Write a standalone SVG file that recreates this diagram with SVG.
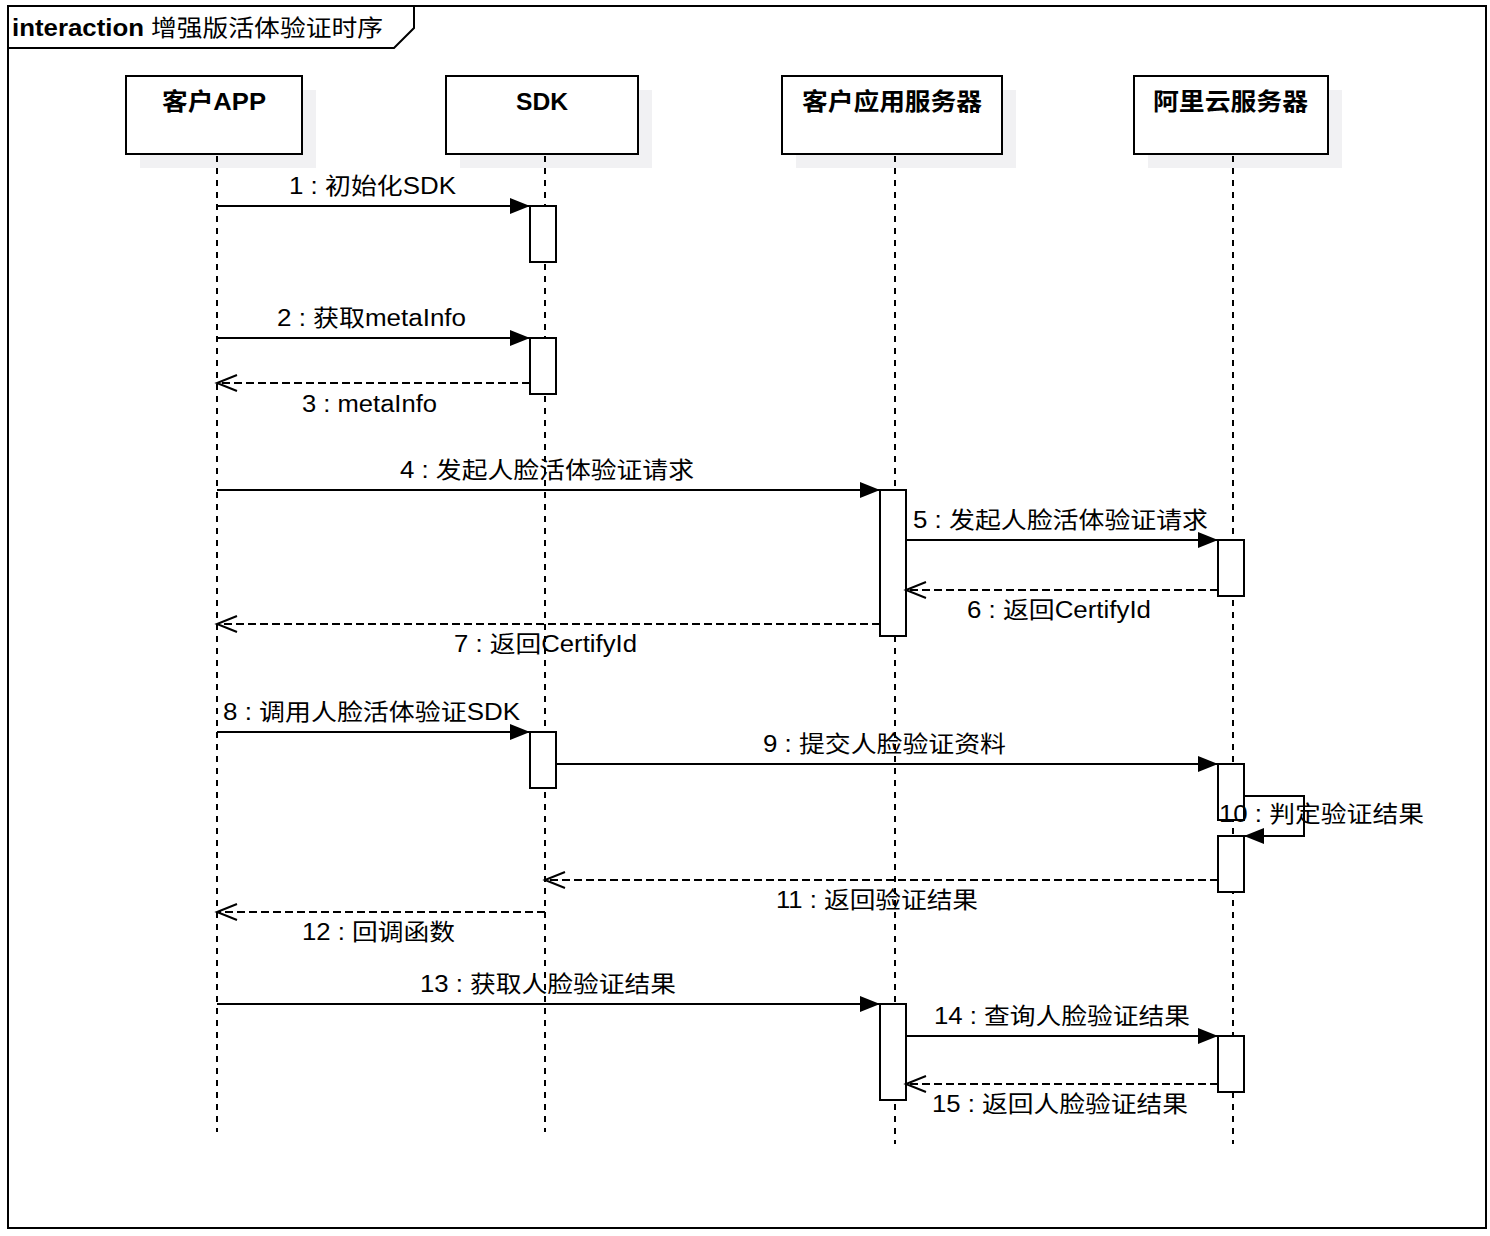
<svg xmlns="http://www.w3.org/2000/svg" width="1490" height="1236" viewBox="0 0 1490 1236">
<style>
text{font-family:"Liberation Sans","Noto Sans CJK SC",sans-serif;font-size:23px;fill:#000}
.b{font-weight:bold;font-size:24px}
.box{fill:#fff;stroke:#000;stroke-width:2}
.shadow{fill:#f1f1f3;stroke:none}
.life{stroke:#000;stroke-width:2;stroke-dasharray:6 6;fill:none}
.act{fill:#fff;stroke:#000;stroke-width:2}
.msg{stroke:#000;stroke-width:2;fill:none;marker-end:url(#solid)}
.ret{stroke:#000;stroke-width:2;fill:none;stroke-dasharray:8 4;marker-end:url(#open)}
</style>
<defs>
<marker id="solid" markerUnits="userSpaceOnUse" markerWidth="22" markerHeight="18" refX="20" refY="8" orient="auto" overflow="visible">
<path d="M0,0 L20,8 L0,16 Z" fill="#000"/>
</marker>
<marker id="open" markerUnits="userSpaceOnUse" markerWidth="22" markerHeight="18" refX="20" refY="8" orient="auto" overflow="visible">
<path d="M0,0 L20,8 L0,16" fill="none" stroke="#000" stroke-width="2"/>
</marker>
</defs>
<rect x="0" y="0" width="1490" height="1236" fill="#fff"/>
<g id="frame">
<rect x="8" y="6" width="1478" height="1222" fill="none" stroke="#000" stroke-width="2"/>
<path d="M8,48 L394,48 L414,28 L414,6" fill="none" stroke="#000" stroke-width="2"/>
<text x="12" y="36" class="b" textLength="132" lengthAdjust="spacingAndGlyphs">interaction</text>
<text x="151" y="36" textLength="232" lengthAdjust="spacingAndGlyphs">增强版活体验证时序</text>
</g>
<g id="p-app">
<rect class="shadow" x="140" y="90" width="176" height="78"/>
<rect class="box" x="126" y="76" width="176" height="78"/>
<text x="162" y="110" class="b" textLength="104" lengthAdjust="spacingAndGlyphs">客户APP</text>
</g>
<g id="p-sdk">
<rect class="shadow" x="460" y="90" width="192" height="78"/>
<rect class="box" x="446" y="76" width="192" height="78"/>
<text x="516" y="110" class="b" textLength="52" lengthAdjust="spacingAndGlyphs">SDK</text>
</g>
<g id="p-server">
<rect class="shadow" x="796" y="90" width="220" height="78"/>
<rect class="box" x="782" y="76" width="220" height="78"/>
<text x="802" y="110" class="b" textLength="180" lengthAdjust="spacingAndGlyphs">客户应用服务器</text>
</g>
<g id="p-aliyun">
<rect class="shadow" x="1148" y="90" width="194" height="78"/>
<rect class="box" x="1134" y="76" width="194" height="78"/>
<text x="1153" y="110" class="b" textLength="155" lengthAdjust="spacingAndGlyphs">阿里云服务器</text>
</g>
<g id="lifelines">
<line class="life" x1="217" y1="156" x2="217" y2="1132"/>
<line class="life" x1="545" y1="156" x2="545" y2="1132"/>
<line class="life" x1="895" y1="156" x2="895" y2="1144"/>
<line class="life" x1="1233" y1="156" x2="1233" y2="1144"/>
</g>
<g id="activations">
<rect class="act" x="530" y="206" width="26" height="56"/>
<rect class="act" x="530" y="338" width="26" height="56"/>
<rect class="act" x="530" y="732" width="26" height="56"/>
<rect class="act" x="880" y="490" width="26" height="146"/>
<rect class="act" x="880" y="1004" width="26" height="96"/>
<rect class="act" x="1218" y="540" width="26" height="56"/>
<rect class="act" x="1218" y="764" width="26" height="56"/>
<rect class="act" x="1218" y="836" width="26" height="56"/>
<rect class="act" x="1218" y="1036" width="26" height="56"/>
</g>
<g id="connectors">
<line class="msg" x1="217" y1="206" x2="530" y2="206"/>
<line class="msg" x1="217" y1="338" x2="530" y2="338"/>
<line class="ret" x1="530" y1="383" x2="217" y2="383"/>
<line class="msg" x1="217" y1="490" x2="880" y2="490"/>
<line class="msg" x1="906" y1="540" x2="1218" y2="540"/>
<line class="ret" x1="1218" y1="590" x2="906" y2="590"/>
<line class="ret" x1="880" y1="624" x2="217" y2="624"/>
<line class="msg" x1="217" y1="732" x2="530" y2="732"/>
<line class="msg" x1="556" y1="764" x2="1218" y2="764"/>
<path class="msg" d="M1244,796 L1304,796 L1304,836 L1244,836"/>
<line class="ret" x1="1218" y1="880" x2="545" y2="880"/>
<line class="ret" x1="545" y1="912" x2="217" y2="912"/>
<line class="msg" x1="217" y1="1004" x2="880" y2="1004"/>
<line class="msg" x1="906" y1="1036" x2="1218" y2="1036"/>
<line class="ret" x1="1218" y1="1084" x2="906" y2="1084"/>
</g>
<g id="labels">
<text x="289" y="194" textLength="167" lengthAdjust="spacingAndGlyphs">1 : 初始化SDK</text>
<text x="277" y="326" textLength="189" lengthAdjust="spacingAndGlyphs">2 : 获取metaInfo</text>
<text x="302" y="412" textLength="135" lengthAdjust="spacingAndGlyphs">3 : metaInfo</text>
<text x="400" y="478" textLength="294" lengthAdjust="spacingAndGlyphs">4 : 发起人脸活体验证请求</text>
<text x="913" y="528" textLength="295" lengthAdjust="spacingAndGlyphs">5 : 发起人脸活体验证请求</text>
<text x="967" y="618" textLength="184" lengthAdjust="spacingAndGlyphs">6 : 返回CertifyId</text>
<text x="454" y="652" textLength="183" lengthAdjust="spacingAndGlyphs">7 : 返回CertifyId</text>
<text x="223" y="720" textLength="297" lengthAdjust="spacingAndGlyphs">8 : 调用人脸活体验证SDK</text>
<text x="763" y="752" textLength="243" lengthAdjust="spacingAndGlyphs">9 : 提交人脸验证资料</text>
<text x="1219" y="822" textLength="205" lengthAdjust="spacingAndGlyphs">10 : 判定验证结果</text>
<text x="776" y="908" textLength="202" lengthAdjust="spacingAndGlyphs">11 : 返回验证结果</text>
<text x="302" y="940" textLength="153" lengthAdjust="spacingAndGlyphs">12 : 回调函数</text>
<text x="420" y="992" textLength="256" lengthAdjust="spacingAndGlyphs">13 : 获取人脸验证结果</text>
<text x="934" y="1024" textLength="256" lengthAdjust="spacingAndGlyphs">14 : 查询人脸验证结果</text>
<text x="932" y="1112" textLength="256" lengthAdjust="spacingAndGlyphs">15 : 返回人脸验证结果</text>
</g>
</svg>
